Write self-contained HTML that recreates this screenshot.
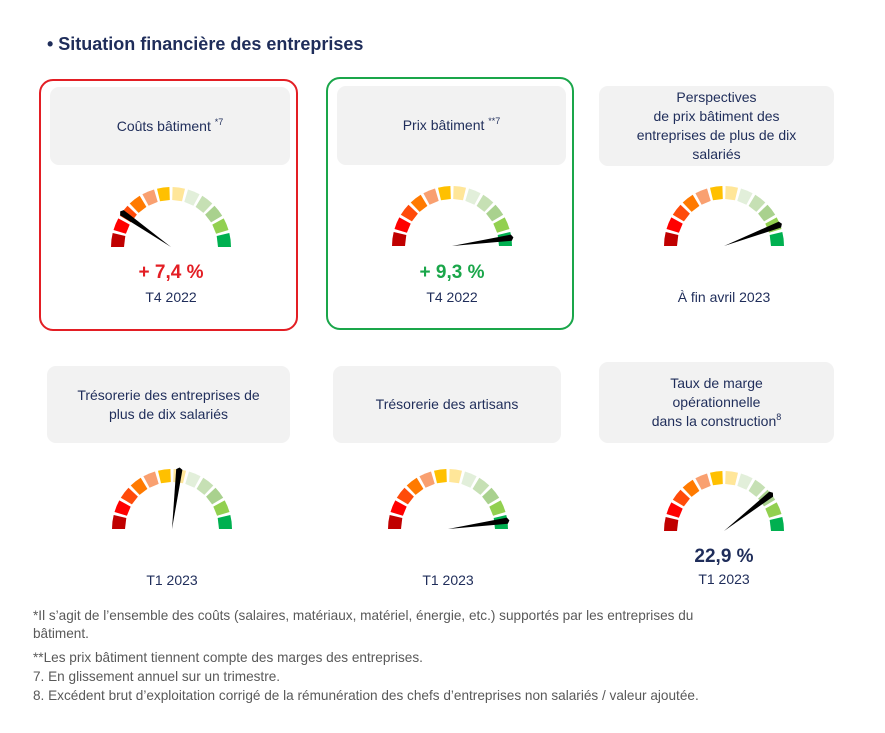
<!DOCTYPE html>
<html><head><meta charset="utf-8"><style>
body{margin:0;background:#fff;width:885px;height:733px;position:relative;overflow:hidden;font-family:"Liberation Sans",sans-serif;color:#1f2d5a}
.a{position:absolute}
.card{position:absolute;border:2px solid;border-radius:14px}
.gb{position:absolute;background:#f2f2f2;border-radius:9px;display:flex;align-items:center;justify-content:center;text-align:center;font-size:14px;line-height:19px;color:#1f2d5a}
.t{position:absolute;text-align:center;font-size:14px;width:200px}
.v{position:absolute;text-align:center;font-size:19px;font-weight:bold;width:200px}
.fn{position:absolute;left:33px;font-size:13.6px;color:#595959;white-space:nowrap}
sup{font-size:9px;vertical-align:6px;line-height:0}
</style></head><body>
<div class="a" style="left:47px;top:34px;font-size:18px;font-weight:bold">• Situation financière des entreprises</div>
<div class="card" style="left:39px;top:79px;width:255px;height:248px;border-color:#e31e24"></div>
<div class="card" style="left:326px;top:77px;width:244px;height:249px;border-color:#1aa64a"></div>
<div class="gb" style="left:50px;top:87px;width:240px;height:78px"><span>Coûts bâtiment <sup>*7</sup></span></div>
<div class="gb" style="left:337px;top:86px;width:229px;height:79px"><span>Prix bâtiment <sup>**7</sup></span></div>
<div class="gb" style="left:599px;top:86px;width:235px;height:80px"><span>Perspectives<br>de prix bâtiment des<br>entreprises de plus de dix<br>salariés</span></div>
<div class="gb" style="left:47px;top:366px;width:243px;height:77px"><span>Trésorerie des entreprises de<br>plus de dix salariés</span></div>
<div class="gb" style="left:333px;top:366px;width:228px;height:77px"><span>Trésorerie des artisans</span></div>
<div class="gb" style="left:599px;top:362px;width:235px;height:81px"><span>Taux de marge<br>opérationnelle<br>dans la construction<sup>8</sup></span></div>
<div class="v" style="left:71px;top:262px;color:#e31e24">+ 7,4 %</div>
<div class="t" style="left:71px;top:289px">T4 2022</div>
<div class="v" style="left:352px;top:262px;color:#1aa64a">+ 9,3 %</div>
<div class="t" style="left:352px;top:289px">T4 2022</div>
<div class="t" style="left:624px;top:289px">À fin avril 2023</div>
<div class="t" style="left:72px;top:572px">T1 2023</div>
<div class="t" style="left:348px;top:572px">T1 2023</div>
<div class="v" style="left:624px;top:546px;color:#1f2d5a">22,9 %</div>
<div class="t" style="left:624px;top:571px">T1 2023</div>
<svg class="a" style="left:0;top:0" width="885" height="733" id="g"></svg>
<div class="fn" style="top:608px">*Il s’agit de l’ensemble des coûts (salaires, matériaux, matériel, énergie, etc.) supportés par les entreprises du</div>
<div class="fn" style="top:626px">bâtiment.</div>
<div class="fn" style="top:650px">**Les prix bâtiment tiennent compte des marges des entreprises.</div>
<div class="fn" style="top:669px">7. En glissement annuel sur un trimestre.</div>
<div class="fn" style="top:688px">8. Excédent brut d’exploitation corrigé de la rémunération des chefs d’entreprises non salariés / valeur ajoutée.</div>
<script>
var cols=["#c00000","#ff0000","#ff4b0a","#ff7a00","#f9a070","#ffc000","#ffe699","#e2efda","#c6e0b4","#a9d18e","#92d050","#00b050"];
var G=[[171,247,145],[452,246,8],[724,246,21],[172,529,83],[448,529,8],[724,531,38]];
var s="",R=60,r=47,gap=3;
function p(cx,cy,rad,a){a=a*Math.PI/180;return (cx+rad*Math.cos(a)).toFixed(1)+","+(cy-rad*Math.sin(a)).toFixed(1);}
G.forEach(function(g){
 for(var i=0;i<12;i++){
  var a0=180-i*15-(i==0?0:gap/2),a1=180-(i+1)*15+(i==11?0:gap/2);
  s+='<polygon fill="'+cols[i]+'" points="'+p(g[0],g[1],R,a0)+' '+p(g[0],g[1],R,(a0+a1)/2)+' '+p(g[0],g[1],R,a1)+' '+p(g[0],g[1],r,a1)+' '+p(g[0],g[1],r,a0)+'"/>';
 }
 var a=g[2],c=p(g[0],g[1],0,a);
 s+='<polygon fill="#000" points="'+c+' '+p(g[0],g[1],60,a+3)+' '+p(g[0],g[1],62,a)+' '+p(g[0],g[1],60,a-3)+'"/>';
});
document.getElementById("g").innerHTML=s;
</script>
</body></html>
